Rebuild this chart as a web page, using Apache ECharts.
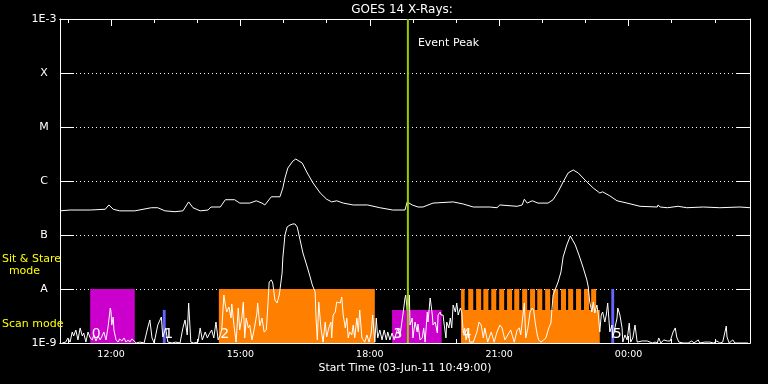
<!DOCTYPE html>
<html><head><meta charset="utf-8">
<script src="https://cdn.jsdelivr.net/npm/echarts@6/dist/echarts.min.js"></script>
<style>html,body{margin:0;padding:0;background:#000}#c{width:768px;height:384px}</style>
</head><body><div id="c"></div>
<script>
// ---- text ----
const titleText = 'GOES 14 X-Rays:';
const xTitleText = 'Start Time (03-Jun-11 10:49:00)';
const eventText = 'Event Peak';
const sitStareText = ['Sit & Stare', 'mode'];
const scanText = 'Scan mode';

// ---- axes (time in minutes after 10:49) ----
const xMin = 0, xMax = 960;
const xMajorMinutes = [71, 251, 431, 611, 791];
const xMajorLabels = ['12:00', '15:00', '18:00', '21:00', '00:00'];
const xMinorMinutes = [11, 71, 131, 191, 251, 311, 371, 431, 491, 551, 611, 671, 731, 791, 851, 911];
const yMin = 1e-9, yMax = 1e-3;
const yTickValues = [1e-9, 1e-8, 1e-7, 1e-6, 1e-5, 1e-4, 1e-3];
const yTickLabels = ['1E-9', 'A', 'B', 'C', 'M', 'X', '1E-3'];

// ---- long channel (1-8 A) ----
const longTime = [0,14,42,63,68,74,83,104,127,136,
  146,160,171,179,185,195,206,210,223,230,
  243,250,264,273,281,285,294,306,310,313,
  317,324,328,337,344,352,362,371,378,385,
  394,408,428,445,463,480,483,490,498,505,
  519,547,561,575,598,608,612,636,643,646,
  650,657,665,679,686,693,700,707,714,721,
  733,742,751,755,765,775,789,807,831,832,
  835,845,860,872,895,918,946,960];
const longFlux = [2.8e-7,2.9e-7,2.9e-7,3.0e-7,3.6e-7,3.0e-7,2.8e-7,2.8e-7,3.2e-7,3.2e-7,
  2.8e-7,2.7e-7,2.8e-7,4.1e-7,3.2e-7,2.8e-7,2.9e-7,3.3e-7,3.3e-7,4.5e-7,
  4.5e-7,3.9e-7,3.9e-7,4.3e-7,3.9e-7,3.6e-7,5.1e-7,5.1e-7,7.4e-7,1.14e-6,
  1.74e-6,2.34e-6,2.55e-6,2.15e-6,1.41e-6,9.2e-7,6.0e-7,4.6e-7,4.1e-7,4.3e-7,
  3.9e-7,3.6e-7,3.6e-7,3.2e-7,2.9e-7,2.9e-7,4.1e-7,3.6e-7,3.3e-7,3.3e-7,
  3.9e-7,4.1e-7,3.75e-7,3.3e-7,3.3e-7,3.2e-7,3.6e-7,3.4e-7,3.6e-7,4.6e-7,
  3.9e-7,4.3e-7,3.9e-7,3.9e-7,4.5e-7,6.3e-7,9.6e-7,1.41e-6,1.6e-6,1.41e-6,
  9.6e-7,7.4e-7,6.0e-7,6.3e-7,5.3e-7,4.3e-7,3.9e-7,3.4e-7,3.3e-7,3.6e-7,
  3.3e-7,3.2e-7,3.4e-7,3.2e-7,3.3e-7,3.2e-7,3.3e-7,3.2e-7];

// ---- short channel (0.5-4 A) ----
const shortTime = [3,8,11,14,17,19,22,25,28,31,
  33,36,39,42,45,47,50,53,56,58,
  61,64,67,70,71,72,74,75,78,81,
  83,86,89,92,95,97,100,103,106,111,
  117,122,125,128,131,136,141,143,147,150,
  156,161,167,171,174,177,179,181,182,186,
  192,195,198,202,205,207,211,214,217,220,
  223,225,228,230,232,235,238,239,242,245,
  248,250,253,255,257,259,262,264,267,270,
  274,275,278,281,284,287,289,291,294,296,
  299,302,305,306,309,310,313,316,320,324,
  327,330,334,338,344,348,351,352,355,356,
  358,360,363,366,369,371,374,377,378,380,
  383,385,387,390,392,394,397,399,401,403,
  406,408,410,413,415,417,420,424,427,430,
  433,435,438,440,442,445,448,451,454,456,
  459,462,465,467,470,473,477,480,481,483,
  486,487,490,491,494,497,498,501,504,506,
  508,511,512,515,518,519,522,525,526,529,
  530,533,534,537,538,541,543,545,547,550,
  552,554,557,559,561,563,565,568,570,575,
  580,583,586,589,591,595,600,604,608,612,
  615,619,623,627,632,636,639,641,646,648,
  651,654,657,659,661,664,666,669,673,676,
  680,683,686,693,697,700,705,710,712,717,
  722,728,733,735,737,740,742,744,747,749,
  751,753,755,758,760,762,765,768,769,772,
  775,776,779,782,783,786,789,792,794,797,
  800,803,810,817,824,828,831,833,836,840,
  845,849,853,856,858,861,867,874,879,882,
  888,890,897,904,909,914,918,922,927,928,
  931,936,939,946,953,957];
const shortFlux = [1.0e-9,1.04e-9,1.24e-9,1.04e-9,1.6e-9,1.35e-9,1.74e-9,1.14e-9,1.9e-9,1.35e-9,
  1.53e-9,1.04e-9,1.6e-9,1.24e-9,1.14e-9,1.41e-9,1.09e-9,1.35e-9,1.14e-9,1.24e-9,
  1.6e-9,1.14e-9,2.06e-9,4.45e-9,3.75e-9,2.15e-9,3.03e-9,1.74e-9,1.14e-9,1.04e-9,
  1.19e-9,1.09e-9,1.24e-9,1.04e-9,1.14e-9,1.04e-9,1.19e-9,1.09e-9,1.0e-9,1.04e-9,
  1.0e-9,1.9e-9,2.67e-9,1.24e-9,1.0e-9,2.15e-9,3.03e-9,1.29e-9,1.9e-9,1.04e-9,
  1.0e-9,1.04e-9,1.0e-9,1.9e-9,2.67e-9,1.41e-9,5.5e-9,5.5e-9,1.04e-9,1.0e-9,
  1.04e-9,1.9e-9,1.14e-9,1.6e-9,1.24e-9,1.41e-9,1.74e-9,1.24e-9,2.45e-9,1.14e-9,
  1.41e-9,1.74e-9,7.74e-9,5.05e-9,3.75e-9,4.64e-9,2.9e-9,5.27e-9,2.15e-9,1.04e-9,
  4.45e-9,1.74e-9,2.9e-9,5.74e-9,1.24e-9,2.9e-9,1.9e-9,2.15e-9,1.14e-9,1.74e-9,
  3.59e-9,5.5e-9,2.06e-9,2.9e-9,1.6e-9,1.74e-9,4.45e-9,1.35e-8,1.47e-8,1.29e-8,
  6.25e-9,5.5e-9,7.74e-9,9.6e-9,1.98e-8,3.75e-8,1.0e-7,1.41e-7,1.53e-7,1.6e-7,
  1.6e-7,1.41e-7,8.1e-8,4.64e-8,2.55e-8,1.67e-8,1.19e-8,1.24e-8,8.8e-9,3.3e-9,
  1.14e-9,5.74e-9,1.9e-9,1.04e-9,2.45e-9,1.29e-9,1.9e-9,2.45e-9,1.24e-9,3.3e-9,
  3.75e-9,5.74e-9,6.25e-9,5.5e-9,7.11e-9,3.3e-9,1.9e-9,2.9e-9,1.24e-9,1.6e-9,
  1.41e-9,2.15e-9,1.24e-9,2.9e-9,1.6e-9,4.08e-9,1.24e-9,1.04e-9,1.41e-9,1.04e-9,
  1.53e-9,3.3e-9,1.04e-9,2.9e-9,1.24e-9,1.74e-9,1.14e-9,1.74e-9,1.14e-9,1.6e-9,
  1.14e-9,1.53e-9,1.14e-9,1.24e-9,1.9e-9,1.35e-9,3.3e-9,6.81e-9,7.74e-9,4.08e-9,
  7.74e-9,2.15e-9,2.9e-9,1.24e-9,2.45e-9,1.6e-9,2.25e-9,1.14e-9,1.24e-9,1.9e-9,
  1.04e-9,3.75e-9,2.45e-9,6.81e-9,3.3e-9,2.15e-9,2.45e-9,1.53e-9,3.3e-9,3.75e-9,
  3.3e-9,3.3e-9,2.45e-9,1.24e-9,2.45e-9,1.9e-9,2.9e-9,1.9e-9,5.05e-9,3.75e-9,
  5.5e-9,3.3e-9,4.45e-9,3.75e-9,1.53e-9,1.9e-9,1.14e-9,1.74e-9,1.04e-9,1.04e-9,
  1.6e-9,2.45e-9,2.15e-9,1.24e-9,1.9e-9,1.04e-9,1.6e-9,1.04e-9,1.6e-9,2.15e-9,
  1.9e-9,1.14e-9,1.41e-9,1.74e-9,1.04e-9,1.74e-9,1.9e-9,1.41e-9,5.5e-9,1.24e-9,
  1.9e-9,3.75e-9,4.45e-9,4.08e-9,2.45e-9,1.41e-9,1.14e-9,1.04e-9,1.14e-9,1.24e-9,
  1.9e-9,2.34e-9,7.74e-9,1.35e-8,2.07e-8,3.92e-8,6.5e-8,9.6e-8,1.0e-7,6.5e-8,
  4.27e-8,2.45e-8,1.47e-8,1.09e-8,5.74e-9,3.75e-9,5.74e-9,3.59e-9,5.05e-9,3.3e-9,
  1.6e-9,3.3e-9,3.75e-9,2.45e-9,3.3e-9,5.5e-9,1.6e-9,2.15e-9,1.24e-9,1.9e-9,
  2.9e-9,4.45e-9,3.3e-9,1.9e-9,1.04e-9,1.41e-9,1.14e-9,2.34e-9,1.04e-9,1.24e-9,
  2.15e-9,1.04e-9,1.09e-9,1.09e-9,1.0e-9,1.04e-9,1.0e-9,1.24e-9,1.0e-9,1.14e-9,
  1.09e-9,1.09e-9,1.6e-9,1.9e-9,1.29e-9,1.04e-9,1.0e-9,1.0e-9,1.09e-9,1.0e-9,
  1.14e-9,1.0e-9,1.04e-9,1.04e-9,1.0e-9,1.09e-9,1.0e-9,1.04e-9,2.06e-9,1.29e-9,
  1.0e-9,1.14e-9,1.0e-9,1.0e-9,1.0e-9,1.0e-9];

// ---- observing regions ----
const regionStart = [42, 143, 221, 462, 558, 767];
const regionEnd   = [104, 147, 438, 531, 751, 771];
const regionTop   = [1e-8, 4.1e-9, 1e-8, 4.1e-9, 4.1e-9, 1e-8];
const regionKind  = ['magenta', 'blue', 'orange', 'magenta', 'orange', 'blue'];
const regionLabel = ['0', '1', '2', '3', '4', '5'];
const stripeStart = [558,568,579,589,600,611,622,632,643,654,664,675,686,697,707,718,729,739];
const stripeEnd   = [563,575,586,596,607,618,629,639,650,661,671,682,693,704,714,725,736,746];
const stripeTop = 1e-8;
const eventPeakTime = 484;

const kindColor = {magenta: '#cc00cc', orange: '#ff8000', blue: '#6464ff'};
const F = '"DejaVu Sans", sans-serif';

const chart = echarts.init(document.getElementById('c'), null, {renderer: 'canvas'});

function xAx(pos, len, vals, labels) {
  return {
    type: 'value', min: xMin, max: xMax, position: pos,
    axisLine: {show: true, onZero: false, lineStyle: {color: '#fff', width: 1}},
    axisTick: {show: true, inside: true, length: len, customValues: vals, lineStyle: {color: '#fff', width: 1}},
    axisLabel: labels ? {
      show: true, customValues: vals, color: '#fff', fontFamily: F, fontSize: 9.5, margin: 7,
      formatter: v => { const i = vals.indexOf(v); return i >= 0 ? labels[i] : ''; }
    } : {show: false},
    splitLine: {show: false}
  };
}
function yAx(pos, labels) {
  return {
    type: 'log', logBase: 10, min: yMin, max: yMax, position: pos, splitNumber: 5,
    axisLine: {show: true, onZero: false, lineStyle: {color: '#fff', width: 1}},
    axisTick: {show: true, inside: true, length: 14, lineStyle: {color: '#fff', width: 1}},
    axisLabel: labels ? {
      show: true, color: '#fff', fontFamily: F, fontSize: 11, align: 'center', margin: 16,
      formatter: v => { const k = Math.round(Math.log10(v)); const i = yTickValues.findIndex(t => Math.round(Math.log10(t)) === k); return i >= 0 ? yTickLabels[i] : ''; }
    } : {show: false},
    splitLine: labels ? {show: true, lineStyle: {color: '#fff', width: 1, type: [1, 3]}} : {show: false}
  };
}

const regionData = regionStart.map((s, i) => [s, regionEnd[i], regionTop[i], i]);
const stripeData = stripeStart.map((s, i) => [s, stripeEnd[i], stripeTop]);

const option = {
  backgroundColor: '#000',
  animation: false,
  grid: {left: 60, right: 18, top: 19, bottom: 41, containLabel: false, outerBoundsMode: 'none'},
  xAxis: [
    xAx('bottom', 7, xMajorMinutes, xMajorLabels),
    xAx('bottom', 4, xMinorMinutes, null),
    xAx('top', 7, xMajorMinutes, null),
    xAx('top', 4, xMinorMinutes, null)
  ],
  yAxis: [yAx('left', true), yAx('right', false)],
  graphic: [
    {type: 'text', z: 10, style: {text: titleText, x: 402, y: 10, fill: '#fff', font: '12px ' + F, align: 'center', verticalAlign: 'middle'}},
    {type: 'text', z: 10, style: {text: xTitleText, x: 405, y: 368, fill: '#fff', font: '10.8px ' + F, align: 'center', verticalAlign: 'middle'}},
    {type: 'text', z: 10, style: {text: sitStareText[0], x: 2, y: 259, fill: '#ffff00', font: '11px ' + F, align: 'left', verticalAlign: 'middle'}},
    {type: 'text', z: 10, style: {text: sitStareText[1], x: 24.5, y: 271, fill: '#ffff00', font: '11px ' + F, align: 'center', verticalAlign: 'middle'}},
    {type: 'text', z: 10, style: {text: scanText, x: 2, y: 324, fill: '#ffff00', font: '11px ' + F, align: 'left', verticalAlign: 'middle'}}
  ],
  series: [
    {
      type: 'custom', xAxisIndex: 0, yAxisIndex: 0, z: 1, silent: true,
      data: regionData, encode: {x: [0, 1], y: 2},
      renderItem: (params, api) => {
        const i = api.value(3);
        const p0 = api.coord([api.value(0), api.value(2)]);
        const p1 = api.coord([api.value(1), yMin]);
        return {type: 'group', children: [
          {type: 'rect', shape: {x: p0[0], y: p0[1], width: p1[0] - p0[0], height: p1[1] - p0[1]}, style: {fill: kindColor[regionKind[i]]}},
          {type: 'text', z2: 5, style: {text: regionLabel[i], x: p0[0] + 1.5, y: p1[1] - 2, fill: '#fff', font: '14px ' + F, align: 'left', verticalAlign: 'bottom'}}
        ]};
      }
    },
    {
      type: 'custom', xAxisIndex: 0, yAxisIndex: 0, z: 1, silent: true,
      data: stripeData, encode: {x: [0, 1], y: 2},
      renderItem: (params, api) => {
        const p0 = api.coord([api.value(0), api.value(2)]);
        const p1 = api.coord([api.value(1), yMin]);
        return {type: 'rect', shape: {x: p0[0], y: p0[1], width: p1[0] - p0[0], height: p1[1] - p0[1]}, style: {fill: kindColor.orange}};
      }
    },
    {
      type: 'line', xAxisIndex: 0, yAxisIndex: 0, z: 3, showSymbol: false, silent: true,
      data: shortTime.map((t, i) => [t, shortFlux[i]]),
      lineStyle: {color: '#fff', width: 1}
    },
    {
      type: 'line', xAxisIndex: 0, yAxisIndex: 0, z: 3, showSymbol: false, silent: true,
      data: longTime.map((t, i) => [t, longFlux[i]]),
      lineStyle: {color: '#fff', width: 1}
    },
    {
      type: 'custom', xAxisIndex: 0, yAxisIndex: 0, z: 4, silent: true,
      data: [[eventPeakTime]], encode: {x: 0},
      renderItem: (params, api) => {
        const top = api.coord([api.value(0), yMax]);
        const bot = api.coord([api.value(0), yMin]);
        return {type: 'group', children: [
          {type: 'line', shape: {x1: top[0], y1: top[1], x2: bot[0], y2: bot[1]}, style: {stroke: '#99cc00', lineWidth: 2}},
          {type: 'text', style: {text: eventText, x: top[0] + 10, y: top[1] + 24, fill: '#fff', font: '11px ' + F, align: 'left', verticalAlign: 'middle'}}
        ]};
      }
    }
  ]
};
chart.setOption(option);
</script>
</body></html>
